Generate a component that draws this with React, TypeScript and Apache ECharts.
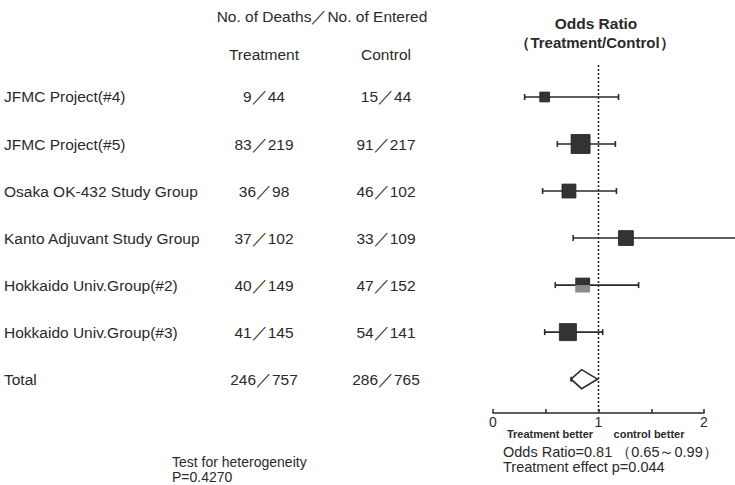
import React, { useEffect, useRef } from "react";
import * as echarts from "echarts";

const studies = [
  "JFMC Project(#4)",
  "JFMC Project(#5)",
  "Osaka OK-432 Study Group",
  "Kanto Adjuvant Study Group",
  "Hokkaido Univ.Group(#2)",
  "Hokkaido Univ.Group(#3)",
];
const treatmentCounts = ["9／44", "83／219", "36／98", "37／102", "40／149", "41／145"];
const controlCounts = ["15／44", "91／217", "46／102", "33／109", "47／152", "54／141"];
const orEstimate = [0.49, 0.83, 0.72, 1.26, 0.85, 0.71];
const ciLower = [0.3, 0.61, 0.47, 0.76, 0.59, 0.49];
const ciUpper = [1.19, 1.16, 1.17, 2.6, 1.38, 1.04];
const weights = [7, 26, 14, 16, 16, 21];

const totalLabel = "Total";
const totalTreatment = "246／757";
const totalControl = "286／765";
const totalPooled = [0.74, 0.84, 0.99];

const FONT = '"Liberation Sans", Arial, Helvetica, sans-serif';
const INK = "#2a2a2a";

export default function App() {
  const ref = useRef<HTMLDivElement>(null);

  useEffect(() => {
    if (!ref.current) return;
    const chart = echarts.init(ref.current, null, { renderer: "svg" });

    const rowCount = studies.length + 1;
    const tableRows = [
      ...studies.map((s, i) => [i, s, treatmentCounts[i], controlCounts[i]]),
      [studies.length, totalLabel, totalTreatment, totalControl],
    ];
    const forestRows = orEstimate.map((e, i) => [ciLower[i], e, ciUpper[i], weights[i], i]);

    const option: any = {
      animation: false,
      backgroundColor: "#ffffff",
      textStyle: { fontFamily: FONT },
      grid: [
        { left: 0, right: 0, top: 65, bottom: 72 },
        { left: 493, width: 211, top: 65, bottom: 72 },
      ],
      xAxis: [
        { gridIndex: 0, type: "value", min: 0, max: 735, show: false },
        {
          gridIndex: 1,
          type: "value",
          min: 0,
          max: 2,
          interval: 0.5,
          axisLine: { show: true, onZero: false, lineStyle: { color: INK, width: 1.5 } },
          axisTick: { show: true, inside: true, length: 4, lineStyle: { color: INK, width: 1.5 } },
          splitLine: { show: false },
          axisLabel: {
            color: INK,
            fontSize: 14,
            margin: 2,
            fontFamily: FONT,
            formatter: (v: number) => (Number.isInteger(v) ? String(v) : ""),
          },
        },
      ],
      yAxis: [
        { gridIndex: 0, type: "value", min: -0.68, max: 6.72, inverse: true, show: false },
        { gridIndex: 1, type: "value", min: -0.68, max: 6.72, inverse: true, show: false },
      ],
      series: [
        {
          type: "custom",
          xAxisIndex: 0,
          yAxisIndex: 0,
          data: tableRows,
          renderItem: (params: any, api: any) => {
            const row = api.value(0);
            const idx = params.dataIndex;
            const r = tableRows[idx];
            const p0 = api.coord([4, row]);
            const p1 = api.coord([264, row]);
            const p2 = api.coord([386, row]);
            const st = (x: number, y: number, text: string, align: string) => ({
              type: "text",
              x,
              y,
              style: {
                text,
                fill: INK,
                font: `15.5px ${FONT}`,
                align,
                verticalAlign: "middle",
              },
            });
            return {
              type: "group",
              children: [
                st(p0[0], p0[1], r[1] as string, "left"),
                st(p1[0], p1[1], r[2] as string, "center"),
                st(p2[0], p2[1], r[3] as string, "center"),
              ],
            };
          },
        },
        {
          type: "custom",
          xAxisIndex: 1,
          yAxisIndex: 1,
          data: [[1, -0.68], [1, 6.72]],
          renderItem: (params: any, api: any) => {
            if (params.dataIndex !== 0) return null;
            const a = api.coord([1, -0.68]);
            const b = api.coord([1, 6.72]);
            return {
              type: "line",
              shape: { x1: a[0], y1: a[1], x2: b[0], y2: b[1] },
              style: { stroke: INK, lineWidth: 1.6, lineDash: [2, 2] },
            };
          },
        },
        {
          type: "custom",
          xAxisIndex: 1,
          yAxisIndex: 1,
          clip: false,
          data: forestRows,
          renderItem: (params: any, api: any) => {
            const lo = api.value(0);
            const est = api.value(1);
            const hi = api.value(2);
            const w = api.value(3);
            const row = api.value(4);
            const pl = api.coord([lo, row]);
            const pe = api.coord([est, row]);
            const ph = api.coord([hi, row]);
            const size = 3.72 * Math.sqrt(w);
            const cap = 3;
            const children: any[] = [
              {
                type: "line",
                shape: { x1: pl[0], y1: pl[1], x2: ph[0], y2: ph[1] },
                style: { stroke: INK, lineWidth: 1.6 },
              },
              {
                type: "line",
                shape: { x1: pl[0], y1: pl[1] - cap, x2: pl[0], y2: pl[1] + cap },
                style: { stroke: INK, lineWidth: 1.6 },
              },
              {
                type: "line",
                shape: { x1: ph[0], y1: ph[1] - cap, x2: ph[0], y2: ph[1] + cap },
                style: { stroke: INK, lineWidth: 1.6 },
              },
            ];
            if (params.dataIndex === 4) {
              children.push({
                type: "rect",
                shape: { x: pe[0] - size / 2, y: pe[1] - size / 2, width: size, height: size / 2 },
                style: { fill: "#333333" },
              });
              children.push({
                type: "rect",
                shape: { x: pe[0] - size / 2, y: pe[1], width: size, height: size / 2 },
                style: { fill: "#8c8c8c" },
              });
            } else {
              children.push({
                type: "rect",
                shape: { x: pe[0] - size / 2, y: pe[1] - size / 2, width: size, height: size },
                style: { fill: "#333333", stroke: "#222", lineWidth: 0.8 },
              });
            }
            return { type: "group", children };
          },
        },
        {
          type: "custom",
          xAxisIndex: 1,
          yAxisIndex: 1,
          data: [[totalPooled[0], totalPooled[1], totalPooled[2], rowCount - 1]],
          renderItem: (params: any, api: any) => {
            const row = api.value(3);
            const pl = api.coord([api.value(0), row]);
            const pe = api.coord([api.value(1), row]);
            const ph = api.coord([api.value(2), row]);
            const h = 9.5;
            return {
              type: "group",
              children: [
                {
                  type: "polygon",
                  shape: {
                    points: [
                      [pl[0], pl[1]],
                      [pe[0], pe[1] - h],
                      [ph[0], ph[1]],
                      [pe[0], pe[1] + h],
                    ],
                  },
                  style: { fill: "#ffffff", stroke: INK, lineWidth: 1.6 },
                },
                {
                  type: "line",
                  shape: { x1: pl[0], y1: pl[1] - 2.5, x2: pl[0], y2: pl[1] + 2.5 },
                  style: { stroke: INK, lineWidth: 1.6 },
                },
              ],
            };
          },
        },
      ],
      graphic: [
        {
          type: "text",
          x: 322,
          y: 16,
          style: { text: "No. of Deaths／No. of Entered", fill: INK, font: `15.5px ${FONT}`, align: "center", verticalAlign: "middle" },
        },
        {
          type: "text",
          x: 264,
          y: 54,
          style: { text: "Treatment", fill: INK, font: `15.5px ${FONT}`, align: "center", verticalAlign: "middle" },
        },
        {
          type: "text",
          x: 386,
          y: 54,
          style: { text: "Control", fill: INK, font: `15.5px ${FONT}`, align: "center", verticalAlign: "middle" },
        },
        {
          type: "text",
          x: 596,
          y: 23,
          style: { text: "Odds Ratio", fill: INK, font: `bold 15.5px ${FONT}`, align: "center", verticalAlign: "middle" },
        },
        {
          type: "text",
          x: 595,
          y: 42,
          style: { text: "（Treatment/Control）", fill: INK, font: `bold 15px ${FONT}`, align: "center", verticalAlign: "middle" },
        },
        {
          type: "text",
          x: 550,
          y: 434,
          style: { text: "Treatment better", fill: INK, font: `bold 11px ${FONT}`, align: "center", verticalAlign: "middle" },
        },
        {
          type: "text",
          x: 649,
          y: 434,
          style: { text: "control better", fill: INK, font: `bold 11px ${FONT}`, align: "center", verticalAlign: "middle" },
        },
        {
          type: "text",
          x: 172,
          y: 469,
          style: {
            text: "Test for heterogeneity\nP=0.4270",
            fill: INK,
            font: `14px ${FONT}`,
            lineHeight: 15,
            verticalAlign: "middle",
          },
        },
        {
          type: "text",
          x: 503,
          y: 459,
          style: {
            text: "Odds Ratio=0.81 （0.65～0.99）\nTreatment effect p=0.044",
            fill: INK,
            font: `14.5px ${FONT}`,
            lineHeight: 15,
            verticalAlign: "middle",
          },
        },
      ],
    };

    chart.setOption(option);
    return () => chart.dispose();
  }, []);

  return (
    <div
      ref={ref}
      style={{ width: 735, height: 485, position: "absolute", left: 0, top: 0 }}
    />
  );
}
